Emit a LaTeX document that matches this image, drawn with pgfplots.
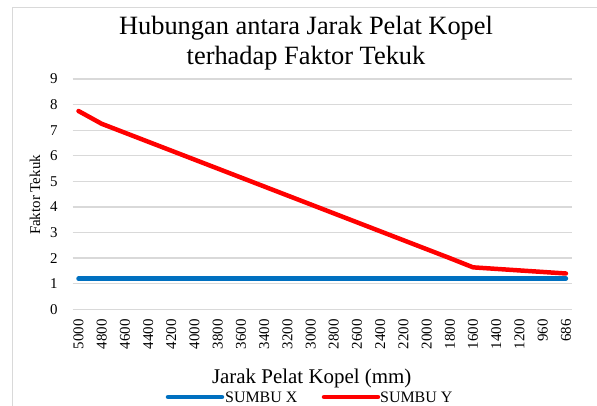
\documentclass[border=0pt]{standalone}
\usepackage{pgfplots}
\pgfplotsset{compat=1.18}
\usepackage{fontspec}
\setmainfont{Liberation Serif}
\definecolor{sumbux}{RGB}{0,112,192}
\definecolor{sumbuy}{RGB}{255,0,0}
\definecolor{gridc}{RGB}{217,217,217}

\begin{document}
\begin{tikzpicture}
\begin{axis}[
    at={(72.7bp,-309.3bp)}, anchor=south west,
    scale only axis, width=499bp, height=230.3bp,
    xmin=-0.25, xmax=21.25, ymin=0, ymax=9,
    axis line style={draw=none},
    ymajorgrids, grid style={gridc,line width=1.3pt},
    ytick={0,1,...,9},
    xtick={0,1,...,21},
    xticklabels={5000,4800,4600,4400,4200,4000,3800,3600,3400,3200,3000,2800,2600,2400,2200,2000,1800,1600,1400,1200,960,686},
    x tick label style={rotate=90,anchor=east,inner sep=0pt,font=\fontsize{15}{16}\selectfont},
    y tick label style={anchor=east,inner sep=0pt,font=\fontsize{15}{16}\selectfont},
    xticklabel shift=10bp, yticklabel shift=15bp,
    major tick length=0pt,
    tick style={draw=none},
    /pgf/number format/assume math mode=true,
    clip=false,
]
  \addplot[sumbux,line width=4.5pt,line cap=round] coordinates {
    (0,1.2) (1,1.2) (2,1.2) (3,1.2) (4,1.2) (5,1.2) (6,1.2) (7,1.2) (8,1.2) (9,1.2) (10,1.2)
    (11,1.2) (12,1.2) (13,1.2) (14,1.2) (15,1.2) (16,1.2) (17,1.2) (18,1.2) (19,1.2) (20,1.2) (21,1.2)};
  \addplot[sumbuy,line width=4.5pt,line cap=round,line join=round] coordinates {
    (0,7.75) (1,7.25) (2,6.9) (3,6.55) (4,6.2) (5,5.85) (6,5.5) (7,5.15) (8,4.8) (9,4.45) (10,4.1)
    (11,3.75) (12,3.4) (13,3.05) (14,2.7) (15,2.35) (16,2.0) (17,1.64) (18,1.58) (19,1.52) (20,1.46) (21,1.40)};
\end{axis}
\begin{scope}[x=1bp,y=-1bp]
% chart frame
\draw[gridc,line width=1pt] (12,420) -- (12,7) -- (610,7);
% title
\node[align=center,font=\fontsize{26.5}{30}\selectfont] at (306,43) {Hubungan antara Jarak Pelat Kopel\\terhadap Faktor Tekuk};
% axis titles
\node[rotate=90,font=\fontsize{15}{17}\selectfont] at (35,195) {Faktor Tekuk};
\node[font=\fontsize{21}{24}\selectfont] at (311.7,378) {Jarak Pelat Kopel (mm)};
% legend
\draw[sumbux,line width=4.5pt,line cap=round] (168,397) -- (222,397);
\node[anchor=west,inner sep=0pt,font=\fontsize{16}{17}\selectfont] at (225,397) {SUMBU X};
\draw[sumbuy,line width=4.5pt,line cap=round] (324,397) -- (378,397);
\node[anchor=west,inner sep=0pt,font=\fontsize{16}{17}\selectfont] at (380,397) {SUMBU Y};
\pgfresetboundingbox
\path (0,0) rectangle (597,405);
\end{scope}
\end{tikzpicture}
\end{document}
